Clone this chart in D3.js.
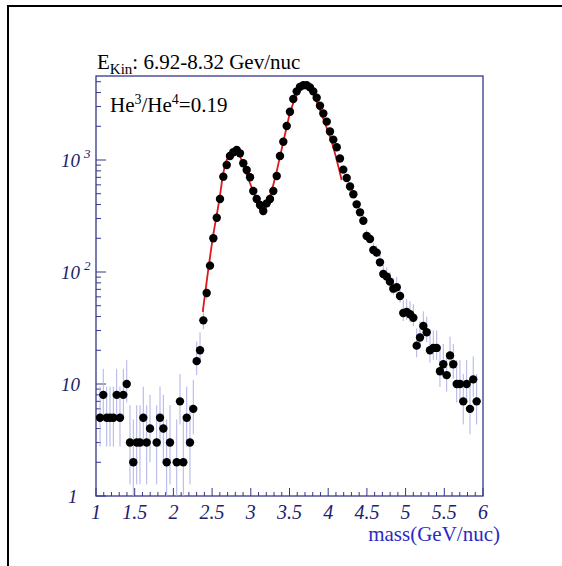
<!DOCTYPE html>
<html><head><meta charset="utf-8">
<script src="https://cdn.jsdelivr.net/npm/d3@7"></script>
<style>body{margin:0;background:#fff}svg{display:block}</style>
</head><body>
<script>
// ---- data ----
const mass = [1.052,1.094,1.138,1.181,1.224,1.267,1.310,1.353,1.397,1.439,1.482,1.526,1.568,1.611,1.655,1.698,
  1.784,1.827,1.870,1.913,1.956,2.043,2.085,2.128,2.172,2.214,2.257,2.301,2.344,2.387,2.430,2.473,2.516,2.560,
  2.602,2.645,2.689,2.731,2.774,2.818,2.860,2.903,2.947,2.990,3.032,3.076,3.119,3.161,3.205,3.248,3.291,3.335,
  3.377,3.420,3.464,3.506,3.549,3.593,3.636,3.678,3.722,3.765,3.807,3.851,3.894,3.937,3.981,4.023,4.066,4.110,
  4.152,4.195,4.239,4.282,4.325,4.368,4.411,4.454,4.497,4.540,4.583,4.627,4.669,4.712,4.756,4.798,4.841,4.885,
  4.928,4.970,5.014,5.057,5.100,5.143,5.186,5.229,5.273,5.315,5.358,5.402,5.444,5.487,5.531,5.574,5.616,5.660,
  5.702,5.745,5.789,5.832,5.874,5.918];
const counts = [5,8,5,5,5,8,5,8,10,3,2,3,3,5,3,4,
  3,5,4,2,3,2,7,2,5,3,6,16,20,37,65,114,200,305,
  449,710,902,1086,1172,1228,1147,935,814,701,528,449,396,350,410,449,528,720,
  1086,1457,2013,2700,3500,4100,4500,4650,4650,4450,4100,3600,3050,2600,2200,1800,1520,1300,
  1030,820,690,580,494,402,341,287,210,197,157,149,122,96,91,82,71,73,
  61,43,44,42,39,22,26,33,29,20,21,21,13,15,12,18,15,10,
  10,7,10,6,11,7];
// fitted curve (red)
const fitMass = [2.379,2.508,2.593,2.645,2.689,2.753,2.818,2.860,2.925,2.990,3.076,3.141,3.154,3.226,3.313,3.377,
  3.464,3.506,3.593,3.678,3.722,3.787,3.872,3.959,4.045,4.110,4.174];
const fitValue = [44,200,439,761,1000,1148,1161,1071,814,620,439,334,328,424,687,1071,
  1983,2613,3802,4457,4457,4074,3046,2128,1456,1000,663];
const xTicks = [1,1.5,2,2.5,3,3.5,4,4.5,5,5.5,6];
const xTickLabels = ["1","1.5","2","2.5","3","3.5","4","4.5","5","5.5","6"];
const yTicks = [1,10,100,1000];
const yTickBase = ["1","10","10","10"];
const yTickExp = ["","","2","3"];
const title = {main:"E", sub:"Kin", rest:": 6.92-8.32 Gev/nuc"};
const xTitle = "mass(GeV/nuc)";

// ---- drawing ----
const W=562,H=566;
const svg=d3.select("body").append("svg").attr("width",W).attr("height",H);
const axisCol="#36368a", labCol="#20206e";
const x=d3.scaleLinear().domain([1,6]).range([96,483]);
const y=d3.scaleLog().domain([1,Math.pow(10,3.75)]).range([496,76]);

// outer frame (extends beyond the window)
svg.append("rect").attr("x",8).attr("y",6).attr("width",600).attr("height",600)
  .attr("fill","none").attr("stroke","#000").attr("stroke-width",2);

// plot box
svg.append("rect").attr("x",x(1)).attr("y",y.range()[1]).attr("width",x(6)-x(1)).attr("height",y.range()[0]-y.range()[1])
  .attr("fill","none").attr("stroke",axisCol).attr("stroke-width",1.3);

// x ticks
const xMinor=d3.range(10,61).map(d=>d/10);
svg.append("g").selectAll("line").data(xMinor).join("line")
  .attr("x1",d=>x(d)).attr("x2",d=>x(d)).attr("y1",496)
  .attr("y2",d=>Math.abs(d*2-Math.round(d*2))<1e-6?488:492)
  .attr("stroke",axisCol).attr("stroke-width",1);
svg.append("g").selectAll("text").data(xTicks).join("text")
  .attr("x",d=>x(d)).attr("y",519).attr("text-anchor","middle")
  .attr("font-family","Liberation Serif").attr("font-style","italic").attr("font-size",20)
  .attr("fill",labCol).text((d,i)=>xTickLabels[i]);
svg.append("text").attr("x",500).attr("y",541).attr("text-anchor","end")
  .attr("font-family","Liberation Serif").attr("font-size",21).attr("fill","#2a2ac4").text(xTitle);

// y ticks
const yMinor=[];
for(let e=0;e<4;e++) for(let k=1;k<10;k++){const v=k*Math.pow(10,e); if(v<=Math.pow(10,3.75)) yMinor.push({v,major:k===1});}
svg.append("g").selectAll("line").data(yMinor).join("line")
  .attr("x1",96).attr("x2",d=>d.major?106:101).attr("y1",d=>y(d.v)).attr("y2",d=>y(d.v))
  .attr("stroke",axisCol).attr("stroke-width",1);
const yl=svg.append("g").selectAll("text").data(yTicks).join("text")
  .attr("x",(d,i)=>yTickBase[i].length===1?68:61).attr("y",d=>y(d)+7).attr("text-anchor","start")
  .attr("font-family","Liberation Serif").attr("font-style","italic").attr("font-size",19).attr("fill",labCol);
yl.each(function(d,i){
  const t=d3.select(this);
  t.append("tspan").text(yTickBase[i]);
  if(yTickExp[i]) t.append("tspan").attr("dx",4).attr("dy",-9).attr("font-size",13).text(yTickExp[i]);
});

// error bars
const data=mass.map((m,i)=>({m,c:counts[i]}));
const ymin=1, ymax=Math.pow(10,3.75);
svg.append("g").selectAll("line").data(data).join("line")
  .attr("x1",d=>x(d.m)).attr("x2",d=>x(d.m))
  .attr("y1",d=>y(Math.max(ymin,d.c-Math.sqrt(d.c))))
  .attr("y2",d=>y(Math.min(ymax,d.c+2*Math.sqrt(d.c))))
  .attr("stroke","#aeb2e6").attr("stroke-width",1);

// fit curve
const line=d3.line().x((d,i)=>x(fitMass[i])).y((d,i)=>y(fitValue[i])).curve(d3.curveCatmullRom);
svg.append("path").attr("d",line(fitMass)).attr("fill","none").attr("stroke","#e01818").attr("stroke-width",1.8);

// points
svg.append("g").selectAll("circle").data(data).join("circle")
  .attr("cx",d=>x(d.m)).attr("cy",d=>y(d.c)).attr("r",4.2).attr("fill","#000");

// titles
const t1=svg.append("text").attr("x",97).attr("y",69).attr("font-family","Liberation Serif").attr("font-size",21).attr("fill","#000");
t1.append("tspan").text(title.main);
t1.append("tspan").attr("dy",5).attr("font-size",15).text(title.sub);
t1.append("tspan").attr("dy",-5).text(title.rest);
const t2=svg.append("text").attr("x",110).attr("y",112).attr("font-family","Liberation Serif").attr("font-size",21).attr("fill","#000");
t2.append("tspan").text("He");
t2.append("tspan").attr("dy",-8).attr("font-size",14).text("3");
t2.append("tspan").attr("dy",8).text("/He");
t2.append("tspan").attr("dy",-8).attr("font-size",14).text("4");
t2.append("tspan").attr("dy",8).text("=0.19");
</script>
</body></html>
